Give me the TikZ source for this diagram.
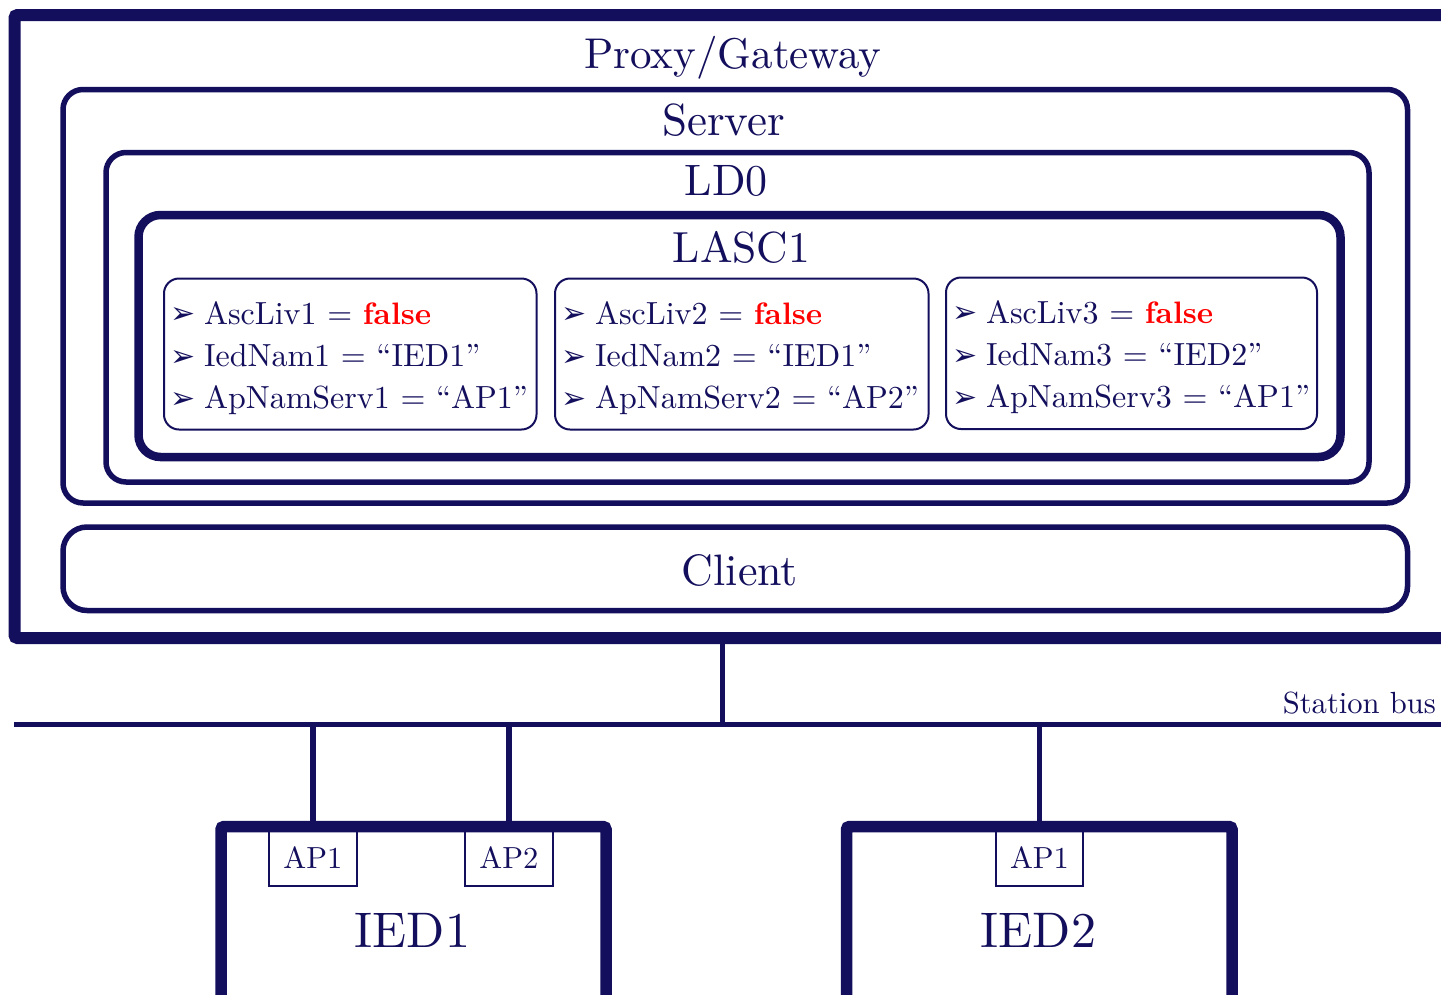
\documentclass[tikz,border=0pt]{standalone}
\usepackage{fontspec}
\setmainfont{lmroman10-regular.otf}
\newfontfamily\falsefont{lmroman10-bold.otf}
\newfontfamily\symfont{DejaVu Sans}
\definecolor{navy}{RGB}{19,15,92}
\begin{document}
\begin{tikzpicture}[x=1pt,y=-1pt,
  every node/.style={text=navy, outer sep=0pt},
  frame/.style={draw=navy, inner sep=0pt, anchor=north west},
  title/.style={anchor=base, inner sep=0pt, font=\fontsize{44}{50}\selectfont},
  itm/.style={anchor=base west, inner sep=0pt, font=\fontsize{32}{38}\selectfont},
  bul/.style={anchor=base west, inner sep=0pt, font=\symfont\fontsize{30}{34}\selectfont},
  apbox/.style={draw=navy, line width=1.8pt, inner sep=0pt, anchor=north,
    minimum width=87.7pt, text height=41.8pt, text depth=17.4pt,
    font=\fontsize{30.5}{36}\selectfont},
  wire/.style={draw=navy, line width=5.5pt}
]
\useasboundingbox (0,0) rectangle (1441,994);
\clip (0,0) rectangle (1441,994);

% containers
\node[frame, line width=12pt, rounded corners=3pt, minimum width=1470pt, minimum height=623pt] (gw) at (14.5,15) {};
\node[frame, line width=5.5pt, rounded corners=20pt, minimum width=1344.5pt, minimum height=413.5pt] (server) at (63,89.5) {};
\node[frame, line width=5.5pt, rounded corners=20pt, minimum width=1263pt, minimum height=329.5pt] (ld0) at (106,152.5) {};
\node[frame, line width=8.5pt, rounded corners=22pt, minimum width=1202pt, minimum height=242pt] (lasc) at (138.5,215) {};
\node[frame, line width=2pt, rounded corners=15pt, minimum width=372.5pt, minimum height=151pt] (box1) at (164,278.5) {};
\node[frame, line width=2pt, rounded corners=15pt, minimum width=373.5pt, minimum height=151pt] (box2) at (555,278.5) {};
\node[frame, line width=2pt, rounded corners=15pt, minimum width=371pt, minimum height=151.5pt] (box3) at (946,277.5) {};
\node[frame, line width=5.5pt, rounded corners=24pt, minimum width=1344.5pt, minimum height=83.5pt] (client) at (63,527) {};
\node[frame, line width=11.5pt, rounded corners=3pt, minimum width=385pt, minimum height=200pt] (ied1) at (221,826.5) {};
\node[frame, line width=11.5pt, rounded corners=3pt, minimum width=385.5pt, minimum height=200pt] (ied2) at (846.5,826.5) {};

% titles
\node[title, font=\fontsize{43}{50}\selectfont] (tgw) at (733,68) {Proxy/Gateway};
\node[title, font=\fontsize{45}{50}\selectfont] (tserver) at (723.7,135.7) {Server};
\node[title] (tld0) at (726.3,195) {LD0};
\node[title, font=\fontsize{43.5}{50}\selectfont] (tlasc) at (741.5,262) {LASC1};
\node[title] (tclient) at (740,585) {Client};
\node[title, font=\fontsize{50}{56}\selectfont] (tied1) at (412.5,947) {IED1};
\node[title, font=\fontsize{50}{56}\selectfont] (tied2) at (1038.5,947) {IED2};

% item lists
\foreach \L/\dy/\n/\ied/\ap [count=\i] in {164/0/1/IED1/AP1, 555/0/2/IED1/AP2, 946/-1/3/IED2/AP1} {
  \node[bul] (b\i a) at (\L+6, 323.5+\dy) {➢};
  \node[bul] (b\i b) at (\L+6, 366+\dy) {➢};
  \node[bul] (b\i c) at (\L+6, 408+\dy) {➢};
  \node[itm] (t\i a) at (\L+40, 324+\dy) {AscLiv\n{} = \textcolor{red}{\falsefont\fontsize{31}{38}\selectfont false}};
  \node[itm] (t\i b) at (\L+40, 366.5+\dy) {IedNam\n{} = “\ied”};
  \node[itm] (t\i c) at (\L+40, 408.5+\dy) {ApNamServ\n{} = “\ap”};
}

% station bus
\coordinate (busL) at (14,724.5);
\coordinate (busR) at (1460,724.5);
\draw[navy, line width=5pt] (busL) -- (busR);
\node[anchor=base east, inner sep=0pt, font=\fontsize{30.6}{36}\selectfont] (tbus) at (1436,713) {Station bus};
\coordinate (gwb) at (722.3,638);
\draw[wire] (gwb) -- (gwb |- busL);

% access points
\node[apbox] (ap11) at (312.85,826.5) {AP1};
\node[apbox] (ap12) at (508.85,826.5) {AP2};
\node[apbox] (ap21) at (1039.5,826.5) {AP1};
\draw[wire] (ap11.north |- busL) -- (ap11.north);
\draw[wire] (ap12.north |- busL) -- (ap12.north);
\draw[wire] (ap21.north |- busL) -- (ap21.north);
\end{tikzpicture}
\end{document}
